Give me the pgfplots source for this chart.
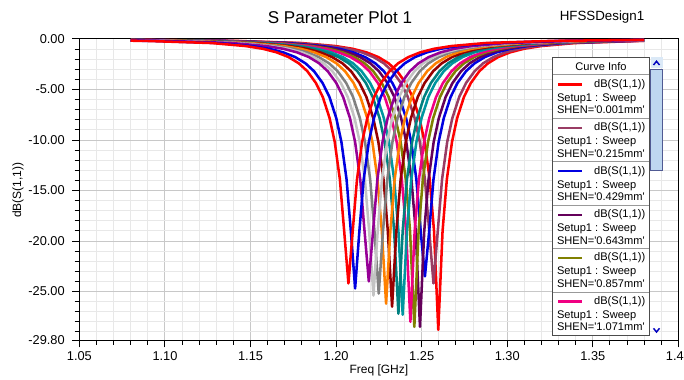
\documentclass[border=0pt]{standalone}
\usepackage{pgfplots}
\pgfplotsset{compat=1.18}
\usepackage{fontspec}
\setmainfont{Liberation Sans}
\definecolor{cRed}{RGB}{255,0,0}
\definecolor{cMauve}{RGB}{153,60,100}
\definecolor{cBlue}{RGB}{0,0,225}
\definecolor{cDPurple}{RGB}{100,0,90}
\definecolor{cOlive}{RGB}{128,128,0}
\definecolor{cPink}{RGB}{240,0,130}
\definecolor{cTealA}{RGB}{0,150,160}
\definecolor{cTeal}{RGB}{0,128,128}
\definecolor{cDRed}{RGB}{150,0,0}
\definecolor{cOrange}{RGB}{255,128,0}
\definecolor{cGray}{RGB}{128,128,128}
\definecolor{cLGray}{RGB}{195,195,195}
\definecolor{cPurple}{RGB}{150,0,150}
\definecolor{majgrid}{RGB}{200,200,200}
\definecolor{mingrid}{RGB}{232,232,232}
\definecolor{thumb}{RGB}{190,215,240}
\newcommand\lgfont{\fontsize{8.3}{9}\selectfont}
\begin{document}
\begin{tikzpicture}
\begin{axis}[
  scale only axis, width=449.25pt, height=225.75pt,
  xmin=1.05, xmax=1.40, ymin=-29.8, ymax=0,
  xtick={1.05,1.1,1.15,1.2,1.25,1.3,1.35,1.4},
  xticklabels={1.05,1.10,1.15,1.20,1.25,1.30,1.35,1.40},
  ytick={0,-5,-10,-15,-20,-25,-29.8},
  yticklabels={0.00,-5.00,-10.00,-15.00,-20.00,-25.00,-29.80},
  minor xtick={1.06,1.07,1.08,1.09,1.11,1.12,1.13,1.14,1.16,1.17,1.18,1.19,1.21,1.22,1.23,1.24,1.26,1.27,1.28,1.29,1.31,1.32,1.33,1.34,1.36,1.37,1.38,1.39},
  minor ytick={-1,-2,-3,-4,-6,-7,-8,-9,-11,-12,-13,-14,-16,-17,-18,-19,-21,-22,-23,-24,-26,-27,-28,-29},
  grid=both,
  major grid style={majgrid, line width=0.75pt},
  minor grid style={mingrid, line width=0.75pt},
  tick align=outside, tick pos=left,
  major tick length=5.5pt, minor tick length=3.5pt,
  tick style={black, line width=0.75pt},
  axis line style={black, line width=0.75pt},
  ticklabel style={font=\fontsize{9.6}{11}\selectfont},
  yticklabel style={xshift=-2pt},
  xlabel={Freq [GHz]}, ylabel={dB(S(1,1))},
  every axis x label/.style={at={(axis description cs:0.5,-0.0997)}, anchor=center, font=\fontsize{9}{11}\selectfont},
  every axis y label/.style={at={(axis description cs:-0.1025,0.498)}, anchor=center, rotate=90, font=\fontsize{9}{11}\selectfont},
  title={S Parameter Plot 1},
  every axis title/.style={at={(axis description cs:0.435,1.073)}, anchor=center, font=\fontsize{12.8}{15}\selectfont},
  no markers,
  every axis plot/.append style={line width=1.9pt, line join=round},
]
% SHEN = 0.001 mm
\addplot[cRed] coordinates {(1.08,-0.08)(1.1397,-0.18)(1.1797,-0.40)(1.1997,-0.70)(1.2097,-0.97)(1.2177,-1.32)(1.2247,-1.79)(1.2307,-2.41)(1.2357,-3.19)(1.2407,-4.36)(1.2447,-5.74)(1.2487,-7.84)(1.2517,-10.2)(1.2547,-13.9)(1.2572,-19.0)(1.2597,-28.8)(1.2622,-19.0)(1.2647,-13.9)(1.2677,-10.2)(1.2707,-7.84)(1.2747,-5.74)(1.2787,-4.36)(1.2837,-3.19)(1.2887,-2.41)(1.2947,-1.79)(1.3017,-1.32)(1.3097,-0.97)(1.3197,-0.70)(1.3397,-0.40)(1.3797,-0.18)(1.38,-0.18)};
% 0.215
\addplot[cMauve] coordinates {(1.08,-0.09)(1.1369,-0.18)(1.1769,-0.40)(1.1969,-0.70)(1.2069,-0.97)(1.2149,-1.32)(1.2219,-1.79)(1.2279,-2.41)(1.2329,-3.19)(1.2379,-4.36)(1.2419,-5.74)(1.2459,-7.84)(1.2489,-10.2)(1.2519,-13.9)(1.2544,-19.0)(1.2569,-24.2)(1.2594,-19.0)(1.2619,-13.9)(1.2649,-10.2)(1.2679,-7.84)(1.2719,-5.74)(1.2759,-4.36)(1.2809,-3.19)(1.2859,-2.41)(1.2919,-1.79)(1.2989,-1.32)(1.3069,-0.97)(1.3169,-0.70)(1.3369,-0.40)(1.3769,-0.18)(1.38,-0.18)};
% 0.429
\addplot[cBlue] coordinates {(1.08,-0.09)(1.1319,-0.18)(1.1719,-0.40)(1.1919,-0.70)(1.2019,-0.97)(1.2099,-1.32)(1.2169,-1.79)(1.2229,-2.41)(1.2279,-3.19)(1.2329,-4.36)(1.2369,-5.74)(1.2409,-7.84)(1.2439,-10.2)(1.2469,-13.9)(1.2494,-19.0)(1.2519,-23.5)(1.2544,-19.0)(1.2569,-13.9)(1.2599,-10.2)(1.2629,-7.84)(1.2669,-5.74)(1.2709,-4.36)(1.2759,-3.19)(1.2809,-2.41)(1.2869,-1.79)(1.2939,-1.32)(1.3019,-0.97)(1.3119,-0.70)(1.3319,-0.40)(1.3719,-0.18)(1.38,-0.16)};
% 0.643
\addplot[cDPurple] coordinates {(1.08,-0.09)(1.1290,-0.18)(1.1690,-0.40)(1.1890,-0.70)(1.1990,-0.97)(1.2070,-1.32)(1.2140,-1.79)(1.2200,-2.41)(1.2250,-3.19)(1.2300,-4.36)(1.2340,-5.74)(1.2380,-7.84)(1.2410,-10.2)(1.2440,-13.9)(1.2465,-19.0)(1.2490,-28.5)(1.2515,-19.0)(1.2540,-13.9)(1.2570,-10.2)(1.2600,-7.84)(1.2640,-5.74)(1.2680,-4.36)(1.2730,-3.19)(1.2780,-2.41)(1.2840,-1.79)(1.2910,-1.32)(1.2990,-0.97)(1.3090,-0.70)(1.3290,-0.40)(1.3690,-0.18)(1.38,-0.16)};
% 0.857
\addplot[cOlive] coordinates {(1.08,-0.10)(1.1257,-0.18)(1.1657,-0.40)(1.1857,-0.70)(1.1957,-0.97)(1.2037,-1.32)(1.2107,-1.79)(1.2167,-2.41)(1.2217,-3.19)(1.2267,-4.36)(1.2307,-5.74)(1.2347,-7.84)(1.2377,-10.2)(1.2407,-13.9)(1.2432,-19.0)(1.2457,-28.5)(1.2482,-19.0)(1.2507,-13.9)(1.2537,-10.2)(1.2567,-7.84)(1.2607,-5.74)(1.2647,-4.36)(1.2697,-3.19)(1.2747,-2.41)(1.2807,-1.79)(1.2877,-1.32)(1.2957,-0.97)(1.3057,-0.70)(1.3257,-0.40)(1.3657,-0.18)(1.38,-0.15)};
% 1.071
\addplot[cPink] coordinates {(1.08,-0.10)(1.1234,-0.18)(1.1634,-0.40)(1.1834,-0.70)(1.1934,-0.97)(1.2014,-1.32)(1.2084,-1.79)(1.2144,-2.41)(1.2194,-3.19)(1.2244,-4.36)(1.2284,-5.74)(1.2324,-7.84)(1.2354,-10.2)(1.2384,-13.9)(1.2409,-19.0)(1.2434,-28.0)(1.2459,-19.0)(1.2484,-13.9)(1.2514,-10.2)(1.2544,-7.84)(1.2584,-5.74)(1.2624,-4.36)(1.2674,-3.19)(1.2724,-2.41)(1.2784,-1.79)(1.2854,-1.32)(1.2934,-0.97)(1.3034,-0.70)(1.3234,-0.40)(1.3634,-0.18)(1.38,-0.14)};
% 1.285
\addplot[cTealA] coordinates {(1.08,-0.11)(1.1189,-0.18)(1.1589,-0.40)(1.1789,-0.70)(1.1889,-0.97)(1.1969,-1.32)(1.2039,-1.79)(1.2099,-2.41)(1.2149,-3.19)(1.2199,-4.36)(1.2239,-5.74)(1.2279,-7.84)(1.2309,-10.2)(1.2339,-13.9)(1.2364,-19.0)(1.2389,-27.3)(1.2414,-19.0)(1.2439,-13.9)(1.2469,-10.2)(1.2499,-7.84)(1.2539,-5.74)(1.2579,-4.36)(1.2629,-3.19)(1.2679,-2.41)(1.2739,-1.79)(1.2809,-1.32)(1.2889,-0.97)(1.2989,-0.70)(1.3189,-0.40)(1.3589,-0.18)(1.38,-0.13)};
% 1.499
\addplot[cTeal] coordinates {(1.08,-0.11)(1.1164,-0.18)(1.1564,-0.40)(1.1764,-0.70)(1.1864,-0.97)(1.1944,-1.32)(1.2014,-1.79)(1.2074,-2.41)(1.2124,-3.19)(1.2174,-4.36)(1.2214,-5.74)(1.2254,-7.84)(1.2284,-10.2)(1.2314,-13.9)(1.2339,-19.0)(1.2364,-27.2)(1.2389,-19.0)(1.2414,-13.9)(1.2444,-10.2)(1.2474,-7.84)(1.2514,-5.74)(1.2554,-4.36)(1.2604,-3.19)(1.2654,-2.41)(1.2714,-1.79)(1.2784,-1.32)(1.2864,-0.97)(1.2964,-0.70)(1.3164,-0.40)(1.3564,-0.18)(1.38,-0.13)};
% 1.713
\addplot[cDRed] coordinates {(1.08,-0.12)(1.1127,-0.18)(1.1527,-0.40)(1.1727,-0.70)(1.1827,-0.97)(1.1907,-1.32)(1.1977,-1.79)(1.2037,-2.41)(1.2087,-3.19)(1.2137,-4.36)(1.2177,-5.74)(1.2217,-7.84)(1.2247,-10.2)(1.2277,-13.9)(1.2302,-19.0)(1.2327,-26.5)(1.2352,-19.0)(1.2377,-13.9)(1.2407,-10.2)(1.2437,-7.84)(1.2477,-5.74)(1.2517,-4.36)(1.2567,-3.19)(1.2617,-2.41)(1.2677,-1.79)(1.2747,-1.32)(1.2827,-0.97)(1.2927,-0.70)(1.3127,-0.40)(1.3527,-0.18)(1.38,-0.12)};
% 1.927
\addplot[cOrange] coordinates {(1.08,-0.12)(1.1092,-0.18)(1.1492,-0.40)(1.1692,-0.70)(1.1792,-0.97)(1.1872,-1.32)(1.1942,-1.79)(1.2002,-2.41)(1.2052,-3.19)(1.2102,-4.36)(1.2142,-5.74)(1.2182,-7.84)(1.2212,-10.2)(1.2242,-13.9)(1.2267,-19.0)(1.2292,-26.2)(1.2317,-19.0)(1.2342,-13.9)(1.2372,-10.2)(1.2402,-7.84)(1.2442,-5.74)(1.2482,-4.36)(1.2532,-3.19)(1.2582,-2.41)(1.2642,-1.79)(1.2712,-1.32)(1.2792,-0.97)(1.2892,-0.70)(1.3092,-0.40)(1.3492,-0.18)(1.38,-0.12)};
% 2.141
\addplot[cGray] coordinates {(1.08,-0.13)(1.1049,-0.18)(1.1449,-0.40)(1.1649,-0.70)(1.1749,-0.97)(1.1829,-1.32)(1.1899,-1.79)(1.1959,-2.41)(1.2009,-3.19)(1.2059,-4.36)(1.2099,-5.74)(1.2139,-7.84)(1.2169,-10.2)(1.2199,-13.9)(1.2224,-19.0)(1.2249,-25.2)(1.2274,-19.0)(1.2299,-13.9)(1.2329,-10.2)(1.2359,-7.84)(1.2399,-5.74)(1.2439,-4.36)(1.2489,-3.19)(1.2539,-2.41)(1.2599,-1.79)(1.2669,-1.32)(1.2749,-0.97)(1.2849,-0.70)(1.3049,-0.40)(1.3449,-0.18)(1.38,-0.11)};
% 2.355
\addplot[cLGray] coordinates {(1.08,-0.13)(1.1018,-0.18)(1.1418,-0.40)(1.1618,-0.70)(1.1718,-0.97)(1.1798,-1.32)(1.1868,-1.79)(1.1928,-2.41)(1.1978,-3.19)(1.2028,-4.36)(1.2068,-5.74)(1.2108,-7.84)(1.2138,-10.2)(1.2168,-13.9)(1.2193,-19.0)(1.2218,-25.4)(1.2243,-19.0)(1.2268,-13.9)(1.2298,-10.2)(1.2328,-7.84)(1.2368,-5.74)(1.2408,-4.36)(1.2458,-3.19)(1.2508,-2.41)(1.2568,-1.79)(1.2638,-1.32)(1.2718,-0.97)(1.2818,-0.70)(1.3018,-0.40)(1.3418,-0.18)(1.38,-0.11)};
% 2.569
\addplot[cPurple] coordinates {(1.08,-0.14)(1.0991,-0.18)(1.1391,-0.40)(1.1591,-0.70)(1.1691,-0.97)(1.1771,-1.32)(1.1841,-1.79)(1.1901,-2.41)(1.1951,-3.19)(1.2001,-4.36)(1.2041,-5.74)(1.2081,-7.84)(1.2111,-10.2)(1.2141,-13.9)(1.2166,-19.0)(1.2191,-24.0)(1.2216,-19.0)(1.2241,-13.9)(1.2271,-10.2)(1.2301,-7.84)(1.2341,-5.74)(1.2381,-4.36)(1.2431,-3.19)(1.2481,-2.41)(1.2541,-1.79)(1.2611,-1.32)(1.2691,-0.97)(1.2791,-0.70)(1.2991,-0.40)(1.3391,-0.18)(1.38,-0.10)};
% 2.783
\addplot[cBlue] coordinates {(1.08,-0.16)(1.0911,-0.18)(1.1311,-0.40)(1.1511,-0.70)(1.1611,-0.97)(1.1691,-1.32)(1.1761,-1.79)(1.1821,-2.41)(1.1871,-3.19)(1.1921,-4.36)(1.1961,-5.74)(1.2001,-7.84)(1.2031,-10.2)(1.2061,-13.9)(1.2086,-19.0)(1.2111,-24.7)(1.2136,-19.0)(1.2161,-13.9)(1.2191,-10.2)(1.2221,-7.84)(1.2261,-5.74)(1.2301,-4.36)(1.2351,-3.19)(1.2401,-2.41)(1.2461,-1.79)(1.2531,-1.32)(1.2611,-0.97)(1.2711,-0.70)(1.2911,-0.40)(1.3311,-0.18)(1.38,-0.09)};
% 2.997
\addplot[cRed] coordinates {(1.08,-0.17)(1.0872,-0.18)(1.1272,-0.40)(1.1472,-0.70)(1.1572,-0.97)(1.1652,-1.32)(1.1722,-1.79)(1.1782,-2.41)(1.1832,-3.19)(1.1882,-4.36)(1.1922,-5.74)(1.1962,-7.84)(1.1992,-10.2)(1.2022,-13.9)(1.2047,-19.0)(1.2072,-24.2)(1.2097,-19.0)(1.2122,-13.9)(1.2152,-10.2)(1.2182,-7.84)(1.2222,-5.74)(1.2262,-4.36)(1.2312,-3.19)(1.2362,-2.41)(1.2422,-1.79)(1.2492,-1.32)(1.2572,-0.97)(1.2672,-0.70)(1.2872,-0.40)(1.3272,-0.18)(1.38,-0.09)};
\end{axis}
% overlay in image pixel coordinates
\begin{scope}[x=0.75pt,y=-0.75pt,shift={(-59.55pt,255pt)}]
  \node[font=\fontsize{10}{12}\selectfont] at (602,17) {HFSSDesign1};
  % legend
  \fill[white] (552.7,57.3) rectangle (649.3,335.7);
  \foreach \t in {75,118.4,161.8,205.2,248.6,292}{
    \draw[black!40, line width=0.75pt] (552.7,\t) -- (649.3,\t);
  }
  \draw[black!70, line width=0.75pt] (552.7,57.3) rectangle (649.3,335.7);
  \node[font=\lgfont] at (601,66.2) {Curve Info};
  \foreach \i/\c/\s in {0/cRed/0.001,1/cMauve/0.215,2/cBlue/0.429,3/cDPurple/0.643,4/cOlive/0.857,5/cPink/1.071}{
    \pgfmathsetmacro\tt{75+43.4*\i}
    \draw[\c, line width=1.6pt] (558,\tt+9.5) -- (582,\tt+9.5);
    \node[font=\lgfont, anchor=east, inner sep=0pt] at (645.5,\tt+9.5) {dB(S(1,1))};
    \node[font=\lgfont, anchor=west, inner sep=0pt] at (556.8,\tt+23.5) {Setup1 : Sweep};
    \node[font=\lgfont, anchor=west, inner sep=0pt] at (556.8,\tt+35) {SHEN=\textquotesingle\s mm\textquotesingle};
  }
  % scrollbar
  \fill[thumb!55] (650.5,57.3) rectangle (662.5,68.5);
  \fill[thumb] (650.5,69) rectangle (662.5,170);
  \draw[thumb!70!blue!60!black, line width=0.5pt] (650.5,69) rectangle (662.5,170);
  \draw[blue!75!black, line width=1.1pt] (653.5,65) -- (656.5,61.3) -- (659.5,65);
  \draw[blue!75!black, line width=1.1pt] (653.5,328.3) -- (656.5,332) -- (659.5,328.3);
\end{scope}
\pgfresetboundingbox
\path[use as bounding box] (-59.55pt,-29.25pt) rectangle (453.45pt,255pt);
\end{tikzpicture}
\end{document}
